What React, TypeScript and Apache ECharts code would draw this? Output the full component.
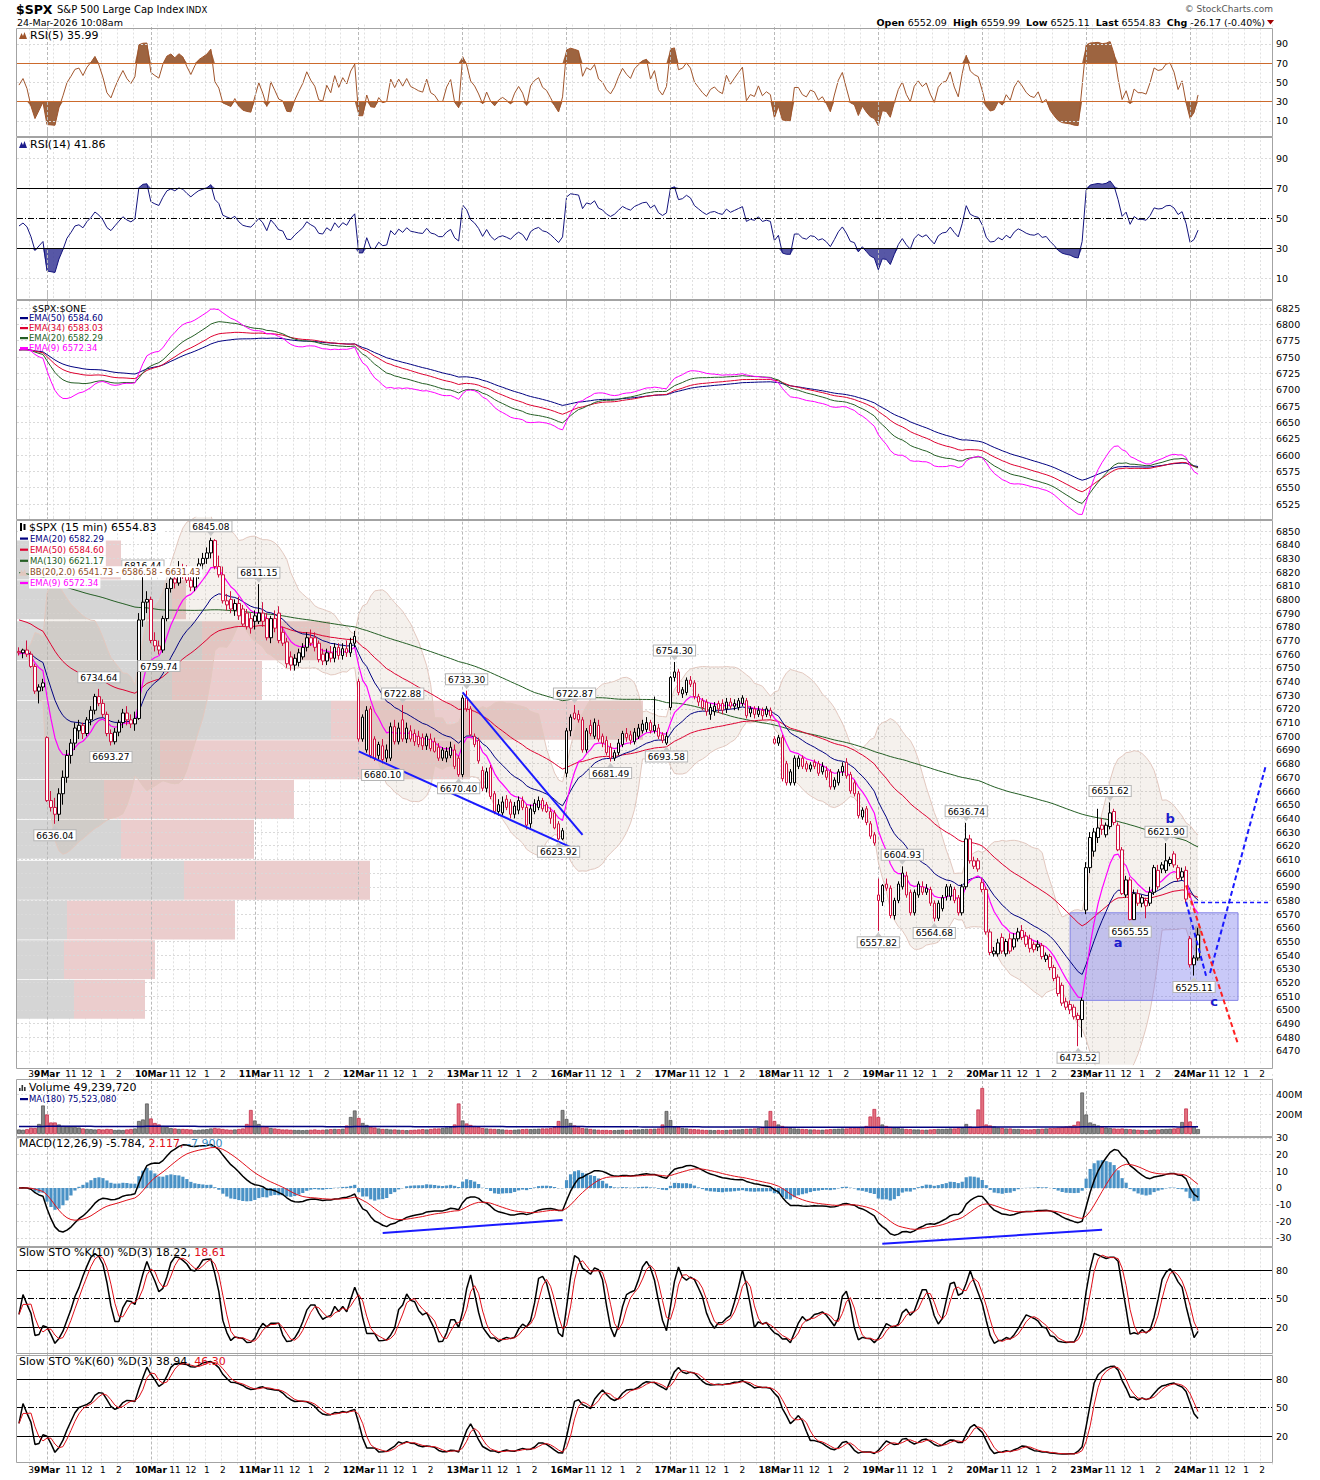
import React, { useEffect, useRef } from 'react';
import * as echarts from 'echarts';

const FONT = 'DejaVu Sans';
const RED = '#cf1040';

// ---------------- sessions on the time axis ----------------
const dayNames = ['6Mar', '9Mar', '10Mar', '11Mar', '12Mar', '13Mar', '16Mar', '17Mar', '18Mar', '19Mar', '20Mar', '23Mar', '24Mar'];
const daySlots = [7, 26, 26, 26, 26, 26, 26, 26, 26, 26, 26, 26, 21];
const dayStartMinute = [855, 570, 570, 570, 570, 570, 570, 570, 570, 570, 570, 570, 570];

// ---------------- 15 min bars [open, high, low, close] ----------------
const mar06 = [
  [6762, 6765, 6759, 6761], [6761, 6764, 6757, 6763], [6763, 6770, 6758, 6760], [6760, 6762, 6750, 6751],
  [6751, 6753, 6731, 6733], [6733, 6738, 6724, 6736], [6736, 6742, 6733, 6739],
];
const mar09 = [
  [6699, 6700, 6652, 6653], [6653, 6660, 6645, 6648], [6648, 6655, 6636.04, 6643], [6643, 6662, 6638, 6658],
  [6658, 6675, 6650, 6670], [6670, 6690, 6666, 6686], [6686, 6698, 6680, 6695], [6695, 6710, 6690, 6706],
  [6704, 6712, 6698, 6708], [6708, 6710, 6698, 6702], [6702, 6714, 6700, 6712], [6712, 6722, 6708, 6719],
  [6719, 6731, 6716, 6729], [6729, 6734.64, 6722, 6724], [6724, 6727, 6714, 6716], [6716, 6718, 6700, 6702],
  [6702, 6705, 6693.27, 6696], [6696, 6706, 6694, 6703], [6703, 6712, 6700, 6710], [6710, 6720, 6706, 6717],
  [6717, 6722, 6708, 6712], [6712, 6716, 6706, 6709], [6709, 6718, 6704, 6713], [6713, 6790, 6712, 6785],
  [6785, 6816.44, 6780, 6798], [6798, 6806, 6790, 6800],
];
const mar10 = [
  [6800, 6802, 6768, 6770], [6770, 6776, 6762, 6766], [6766, 6770, 6759.74, 6763], [6763, 6788, 6761, 6786],
  [6786, 6812, 6784, 6808], [6808, 6818, 6805, 6815], [6815, 6822, 6808, 6812], [6812, 6828, 6810, 6822],
  [6822, 6826, 6815, 6820], [6820, 6825, 6812, 6814], [6814, 6818, 6806, 6809], [6809, 6820, 6806, 6818],
  [6818, 6830, 6815, 6826], [6826, 6834, 6822, 6830], [6830, 6838, 6826, 6834], [6834, 6845.08, 6830, 6843],
  [6843, 6844, 6822, 6824], [6824, 6832, 6816, 6818], [6818, 6824, 6797, 6799], [6799, 6804, 6792, 6796],
  [6800, 6806, 6790, 6793], [6792, 6800, 6788, 6797], [6797, 6802, 6785, 6788], [6793, 6796, 6780, 6782],
  [6790, 6793, 6778, 6780], [6786, 6790, 6775, 6779],
];
const mar11 = [
  [6788, 6792, 6778, 6784], [6784, 6811.15, 6782, 6790], [6790, 6798, 6780, 6784], [6786, 6790, 6770, 6772],
  [6772, 6788, 6768, 6786], [6786, 6792, 6776, 6779], [6790, 6795, 6768, 6770], [6776, 6780, 6766, 6768],
  [6769, 6772, 6750, 6753], [6758, 6762, 6748, 6752], [6752, 6760, 6748, 6757], [6754, 6764, 6751, 6761],
  [6758, 6768, 6756, 6765], [6765, 6776, 6762, 6772], [6772, 6778, 6766, 6768], [6772, 6776, 6762, 6765],
  [6768, 6770, 6754, 6756], [6760, 6764, 6752, 6755], [6755, 6764, 6752, 6761], [6761, 6766, 6754, 6757],
  [6757, 6768, 6754, 6765], [6765, 6768, 6756, 6759], [6759, 6768, 6756, 6764], [6764, 6770, 6758, 6761],
  [6761, 6772, 6758, 6768], [6768, 6777, 6765, 6773],
];
const mar12 = [
  [6740, 6742, 6696, 6698], [6714, 6716, 6696, 6698], [6690, 6722, 6688, 6719], [6720, 6722, 6684, 6686],
  [6698, 6700, 6682, 6684], [6686, 6696, 6683, 6694], [6693, 6698, 6680.10, 6683], [6690, 6694, 6681, 6684],
  [6684, 6710, 6682, 6707], [6707, 6712, 6694, 6696], [6696, 6710, 6694, 6706], [6712, 6722.88, 6696, 6698],
  [6698, 6710, 6695, 6706], [6704, 6708, 6696, 6698], [6702, 6705, 6693, 6696], [6700, 6704, 6692, 6694],
  [6699, 6702, 6690, 6693], [6693, 6702, 6690, 6700], [6698, 6702, 6689, 6691], [6696, 6699, 6688, 6689],
  [6692, 6695, 6682, 6684], [6690, 6692, 6682, 6684], [6684, 6692, 6681, 6689], [6686, 6696, 6684, 6692],
  [6690, 6694, 6676, 6678], [6684, 6686, 6670.40, 6672],
];
const mar13 = [
  [6672, 6730, 6670, 6728], [6728, 6733.30, 6718, 6720], [6720, 6722, 6700, 6701], [6700, 6702, 6692, 6694],
  [6697, 6699, 6680, 6682], [6675, 6678, 6660, 6662], [6662, 6677, 6659, 6674], [6677, 6679, 6654, 6656],
  [6658, 6660, 6643, 6645], [6645, 6654, 6642, 6650], [6644, 6656, 6642, 6652], [6654, 6657, 6646, 6648],
  [6652, 6654, 6640, 6643], [6643, 6652, 6640, 6649], [6646, 6656, 6643, 6653], [6653, 6656, 6646, 6648],
  [6648, 6650, 6632, 6635], [6636, 6650, 6633, 6647], [6645, 6654, 6643, 6651], [6648, 6656, 6646, 6653],
  [6653, 6655, 6645, 6647], [6650, 6652, 6644, 6645], [6645, 6648, 6636, 6640], [6644, 6646, 6632, 6633],
  [6636, 6638, 6623.92, 6625], [6625, 6633, 6624, 6631],
];
const mar16 = [
  [6673, 6706, 6670, 6704], [6704, 6716, 6700, 6714], [6717, 6722.87, 6712, 6713], [6716, 6719, 6710, 6712],
  [6712, 6714, 6688, 6690], [6690, 6706, 6688, 6704], [6708, 6712, 6700, 6702], [6700, 6713, 6698, 6710],
  [6708, 6712, 6696, 6698], [6700, 6702, 6692, 6695], [6697, 6700, 6686, 6688], [6692, 6695, 6681.49, 6684],
  [6684, 6690, 6682, 6688], [6688, 6698, 6686, 6695], [6694, 6704, 6692, 6702], [6702, 6706, 6696, 6699],
  [6701, 6704, 6694, 6697], [6696, 6706, 6694, 6703], [6700, 6709, 6698, 6706], [6704, 6712, 6702, 6709],
  [6705, 6714, 6703, 6710], [6710, 6712, 6702, 6704], [6704, 6729, 6702, 6708], [6706, 6709, 6698, 6700],
  [6701, 6703, 6695, 6697], [6695, 6703, 6693.58, 6700],
];
const mar17 = [
  [6721, 6744, 6719, 6743], [6743, 6754.30, 6740, 6747], [6747, 6749, 6730, 6732], [6731, 6736, 6728, 6734],
  [6732, 6743, 6730, 6741], [6741, 6744, 6736, 6738], [6739, 6741, 6727, 6729], [6729, 6731, 6722, 6725],
  [6726, 6728, 6719, 6721], [6725, 6727, 6715, 6718], [6716, 6724, 6712, 6721], [6718, 6725, 6715, 6722],
  [6724, 6726, 6717, 6720], [6724, 6727, 6716, 6719], [6720, 6728, 6717, 6725], [6725, 6728, 6720, 6722],
  [6722, 6727, 6719, 6724], [6721, 6728, 6719, 6726], [6724, 6730, 6722, 6728], [6726, 6728, 6713, 6715],
  [6720, 6722, 6714, 6717], [6720, 6722, 6713, 6716], [6716, 6722, 6714, 6719], [6719, 6721, 6712, 6715],
  [6720, 6722, 6714, 6716], [6719, 6721, 6713, 6715],
];
const mar18 = [
  [6698, 6700, 6694, 6695], [6695, 6701, 6693, 6699], [6699, 6701, 6667, 6669], [6680, 6682, 6664, 6666],
  [6674, 6676, 6664, 6666], [6666, 6686, 6664, 6684], [6678, 6686, 6676, 6684], [6684, 6686, 6676, 6678],
  [6680, 6682, 6674, 6676], [6676, 6681, 6674, 6679], [6681, 6683, 6676, 6678], [6680, 6682, 6671, 6673],
  [6678, 6681, 6672, 6674], [6675, 6678, 6668, 6670], [6674, 6676, 6661, 6663], [6663, 6670, 6661, 6668],
  [6666, 6676, 6664, 6674], [6674, 6681, 6671, 6678], [6681, 6684, 6669, 6671], [6672, 6674, 6658, 6660],
  [6666, 6668, 6656, 6658], [6658, 6660, 6640, 6642], [6641, 6648, 6639, 6646], [6647, 6649, 6635, 6637],
  [6636, 6638, 6625, 6627], [6628, 6630, 6620, 6622],
];
const mar19 = [
  [6584, 6596, 6557.82, 6580], [6579, 6592, 6576, 6591], [6592, 6596, 6587, 6589], [6589, 6591, 6567, 6569],
  [6569, 6582, 6566, 6580], [6580, 6594, 6578, 6592], [6590, 6604.93, 6588, 6600], [6598, 6601, 6582, 6584],
  [6586, 6588, 6569, 6571], [6571, 6588, 6569, 6586], [6584, 6594, 6582, 6592], [6590, 6594, 6584, 6586],
  [6586, 6592, 6584, 6589], [6588, 6590, 6576, 6578], [6578, 6580, 6564.68, 6567], [6567, 6580, 6565, 6578],
  [6574, 6584, 6572, 6582], [6590, 6592, 6580, 6583], [6583, 6592, 6580, 6590], [6588, 6590, 6578, 6580],
  [6582, 6584, 6569, 6571], [6571, 6592, 6569, 6590], [6590, 6636.74, 6588, 6625], [6625, 6628, 6607, 6609],
  [6609, 6612, 6603, 6605], [6609, 6611, 6601, 6603],
];
const mar20 = [
  [6593, 6596, 6586, 6588], [6588, 6590, 6555, 6557], [6557, 6559, 6540, 6542], [6541, 6546, 6539, 6543],
  [6541, 6552, 6539, 6549], [6553, 6556, 6541, 6543], [6541, 6552, 6539, 6550], [6552, 6556, 6541, 6543],
  [6546, 6556, 6544, 6552], [6552, 6560, 6550, 6557], [6558, 6562, 6551, 6553], [6554, 6557, 6546, 6548],
  [6552, 6555, 6542, 6545], [6548, 6550, 6542, 6544], [6548, 6551, 6543, 6546], [6547, 6549, 6537, 6539],
  [6537, 6542, 6535, 6540], [6539, 6541, 6529, 6531], [6531, 6533, 6521, 6523], [6524, 6526, 6510, 6512],
  [6518, 6520, 6503, 6505], [6506, 6509, 6500, 6502], [6504, 6507, 6497, 6500], [6502, 6504, 6493, 6495],
  [6496, 6498, 6473.52, 6493], [6493, 6509, 6480, 6507],
];
const mar23 = [
  [6573, 6608, 6570, 6604], [6604, 6630, 6600, 6626], [6616, 6633, 6612, 6630], [6626, 6647, 6622, 6633],
  [6635, 6640, 6628, 6632], [6628, 6637, 6626, 6635], [6634, 6651.62, 6632, 6644], [6645, 6647, 6635, 6637],
  [6635, 6637, 6616, 6617], [6617, 6619, 6584, 6585], [6584, 6598, 6582, 6595], [6595, 6597, 6565.55, 6566],
  [6566, 6588, 6566, 6585], [6585, 6588, 6576, 6578], [6582, 6584, 6575, 6578], [6580, 6582, 6567, 6576],
  [6578, 6590, 6576, 6586], [6586, 6606, 6584, 6604], [6590, 6606, 6588, 6602], [6606, 6608, 6600, 6603],
  [6602, 6621.90, 6600, 6609], [6607, 6612, 6605, 6610], [6614, 6616, 6604, 6606], [6604, 6606, 6594, 6596],
  [6597, 6604, 6595, 6601], [6602, 6605, 6578, 6581],
];
const mar24 = [
  [6552.09, 6554, 6531, 6533], [6533, 6540, 6525.11, 6538], [6538, 6559.99, 6536, 6554.83],
];

// ---------------- volume per bar (millions) ----------------
const vol06 = [45, 42, 48, 62, 60, 100, 285];
const vol09 = [195, 115, 115, 95, 80, 75, 72, 70, 65, 55, 50, 48, 45, 48, 45, 50, 48, 40, 42, 40, 45, 50, 55, 130, 145, 305];
const vol10 = [155, 110, 95, 80, 70, 60, 55, 50, 50, 48, 45, 40, 42, 45, 48, 55, 60, 55, 50, 45, 42, 45, 50, 55, 100, 240];
const vol11 = [135, 100, 80, 70, 60, 55, 50, 45, 45, 42, 40, 40, 38, 40, 42, 45, 40, 42, 45, 48, 50, 48, 52, 85, 170, 235];
const vol12 = [160, 110, 90, 75, 65, 55, 50, 50, 45, 45, 42, 40, 38, 40, 42, 45, 48, 45, 50, 55, 55, 60, 65, 70, 95, 305];
const vol13 = [135, 105, 90, 80, 70, 60, 55, 52, 50, 48, 45, 42, 40, 42, 45, 48, 50, 48, 50, 52, 55, 55, 60, 70, 130, 240];
const vol16 = [150, 110, 85, 70, 60, 55, 50, 45, 42, 40, 40, 38, 38, 40, 42, 40, 42, 45, 45, 48, 50, 50, 52, 55, 95, 230];
const vol17 = [140, 75, 75, 60, 55, 50, 48, 45, 42, 40, 40, 38, 40, 38, 40, 42, 45, 45, 48, 50, 52, 55, 60, 70, 135, 230];
const vol18 = [130, 95, 80, 70, 60, 55, 52, 50, 48, 45, 45, 42, 42, 45, 48, 50, 52, 55, 55, 60, 60, 65, 70, 80, 175, 250];
const vol19 = [170, 95, 80, 70, 65, 60, 55, 50, 48, 45, 45, 42, 42, 45, 48, 50, 50, 52, 55, 55, 58, 60, 100, 75, 70, 245];
const vol20 = [460, 95, 85, 75, 65, 60, 55, 55, 50, 50, 48, 45, 45, 48, 50, 52, 55, 58, 60, 65, 70, 75, 80, 90, 125, 415];
const vol23 = [195, 115, 100, 85, 70, 65, 60, 55, 52, 55, 50, 48, 45, 42, 40, 40, 42, 45, 45, 48, 50, 52, 55, 60, 120, 255];
const vol24 = [125, 75, 49.24];

// ---------------- volume by price (band top price, relative volumes) ----------------
const vbpTop = [6843, 6814, 6784, 6755, 6726, 6697, 6668, 6639, 6609, 6580, 6551, 6522];
const vbpStep = 29.2;
const vbpGray = [78, 155, 185, 155, 314, 143, 87, 104, 167, 50, 47, 57];
const vbpPink = [26, 14, 128, 90, 312, 310, 190, 133, 186, 168, 91, 71];

// ---------------- indicator seeds read from the left edge ----------------
const seedEma20 = 6761, seedEma50 = 6786, seedEma9 = 6760, priorMa130 = 6820, priorVolMa = 75;

// ---------------- annotations [day, bar, price] ----------------
const highMarks = [[1, 13], [1, 24], [2, 15], [3, 1], [4, 11], [5, 1], [6, 2], [7, 1], [9, 6], [9, 22], [11, 6], [11, 20]];
const lowMarks = [[1, 2], [1, 16], [2, 2], [4, 6], [4, 25], [5, 24], [6, 11], [6, 25], [9, 0], [9, 14], [10, 24], [11, 11], [12, 1]];
const wedgeLines = [[[4, 0, 6689], [6, 1, 6619]], [[5, 0, 6732], [6, 4, 6628]]];
const macdLines = [[[4, 6, -27], [5, 25, -19.2]], [[9, 1, -33.5], [11, 4, -25.1]]];
const blueProj = [[[11, 25, 6579], [12, 4, 6525]], [[12, 5, 6527], [12, 19, 6679]]];
const redProj = [[11, 25, 6591], [12, 12, 6475]];
const blueLevel = [[12, 1, 6579], [12, 20, 6579]];
const boxArea = [[10, 22, 6571], [12, 12, 6507]];
const waveLetters = [['a', 11, 8, 6549], ['b', 11, 21, 6640], ['c', 12, 6, 6506]];
const currentBar = [[12, 2, 6561], [12, 2, 6536]];

// ---------------- helpers ----------------
function ema(vals: number[], n: number, seed: number) {
  const k = 2 / (n + 1);
  let e = seed;
  return vals.map((v) => (e = e + k * (v - e)));
}
function smaWin(vals: number[], n: number, prior?: number) {
  return vals.map((_, i) => {
    let s = 0, c = 0;
    for (let j = Math.max(0, i - n + 1); j <= i; j++) { s += vals[j]; c++; }
    if (prior !== undefined) { s += prior * (n - c); c = n; }
    return s / c;
  });
}
function stdWin(vals: number[], n: number, means: number[]) {
  return vals.map((_, i) => {
    let s = 0, c = 0;
    for (let j = Math.max(0, i - n + 1); j <= i; j++) { s += (vals[j] - means[i]) ** 2; c++; }
    return Math.sqrt(s / c);
  });
}
function rsi(vals: number[], n: number, g0: number, l0: number, p0: number) {
  let g = g0, l = l0, p = p0;
  return vals.map((c) => {
    const d = c - p; p = c;
    g = (g * (n - 1) + Math.max(d, 0)) / n;
    l = (l * (n - 1) + Math.max(-d, 0)) / n;
    return 100 - 100 / (1 + g / l);
  });
}
function slowSto(h: number[], lo: number[], c: number[], n: number) {
  const fast = c.map((v, i) => {
    let hh = -Infinity, ll = Infinity;
    for (let j = Math.max(0, i - n + 1); j <= i; j++) { hh = Math.max(hh, h[j]); ll = Math.min(ll, lo[j]); }
    return hh === ll ? 50 : (100 * (v - ll)) / (hh - ll);
  });
  const k = smaWin(fast, 3);
  const d = smaWin(k, 3);
  return [k, d];
}

// ---------------- build axis + series data ----------------
const ohlcDays = [mar06, mar09, mar10, mar11, mar12, mar13, mar16, mar17, mar18, mar19, mar20, mar23, mar24];
const volDays = [vol06, vol09, vol10, vol11, vol12, vol13, vol16, vol17, vol18, vol19, vol20, vol23, vol24];

const cats: string[] = [];
const labelText: string[] = [];
const hourLine: boolean[] = [];
const dayStart: number[] = [];
const hourNames: Record<number, string> = { 660: '11', 720: '12', 780: '1', 840: '2' };
{
  let slot = 0;
  dayNames.forEach((dn, d) => {
    dayStart.push(slot);
    for (let k = 0; k < daySlots[d]; k++) {
      const m = dayStartMinute[d] + 15 * k;
      cats.push(dn + ' ' + Math.floor(m / 60) + ':' + String(m % 60).padStart(2, '0'));
      let lab = '';
      if (d === 0) { if (m === 900) lab = '3'; }
      else if (k === 0) lab = '{d|' + dn + '}';
      else if (hourNames[m]) lab = hourNames[m];
      labelText.push(lab);
      hourLine.push(m % 60 === 0 && k !== 0);
      slot++;
    }
  });
}
const at = (d: number, b: number) => dayStart[d] + b;

const bars: number[][] = ohlcDays.flat() as number[][];
const vols: number[] = volDays.flat();
const closes = bars.map((b) => b[3]);
const highs = bars.map((b) => b[1]);
const lows = bars.map((b) => b[2]);

const candleData = bars.map((b, i) => {
  const prev = i > 0 ? bars[i - 1][3] : b[0];
  const col = b[3] < prev ? RED : '#000';
  return { value: [b[0], b[3], b[2], b[1]], itemStyle: { color: '#fff', color0: col, borderColor: col, borderColor0: col, borderWidth: 1 } };
});
const volData = vols.map((v, i) => {
  const up = i === 0 || closes[i] >= closes[i - 1];
  return { value: v, itemStyle: { color: up ? '#8a8a8a' : '#e3707f', borderColor: up ? '#4a4a4a' : '#c0203e', borderWidth: 0.7 } };
});
const volMa = smaWin(vols, 180, priorVolMa);

const ema20 = ema(closes, 20, seedEma20);
const ema50 = ema(closes, 50, seedEma50);
const ema9 = ema(closes, 9, seedEma9);
const ma130 = smaWin(closes, 130, priorMa130);
const bbMid = smaWin(closes, 20);
const bbSd = stdWin(closes, 20, bbMid);
const bbUp = bbMid.map((m, i) => m + 2 * bbSd[i]);
const bbLo = bbMid.map((m, i) => m - 2 * bbSd[i]);
const bbDiff = bbUp.map((u, i) => u - bbLo[i]);

const pe50 = ema(closes, 50, closes[0]);
const pe34 = ema(closes, 34, closes[0]);
const pe20 = ema(closes, 20, closes[0]);
const pe9 = ema(closes, 9, closes[0]);

const rsi5 = rsi(closes, 5, 2, 2, bars[0][0]);
const rsi14 = rsi(closes, 14, 2, 2.4, bars[0][0]);

const e12 = ema(closes, 12, closes[0]);
const e26 = ema(closes, 26, closes[0]);
const macd = e12.map((v, i) => v - e26[i]);
const macdSig = ema(macd, 9, 0);
const macdHist = macd.map((v, i) => v - macdSig[i]);

const [sto10k, sto10d] = slowSto(highs, lows, closes, 10);
const [sto60k, sto60d] = slowSto(highs, lows, closes, 60);

// ---------------- layout ----------------
const LEFT = 17, RIGHT = 48, PW = 1255;
const gridDefs = [
  [24.5, 115.5], [128, 180], [291.667, 228.667], [517.32, 547.36],
  [1074, 60], [1121.333, 133.333], [1241.5, 114], [1350.5, 114],
];
const axisDefs = [
  [-10, 110, 20], [-10, 110, 20], [6500, 6850, 25], [6460, 6860, 10],
  [0, 600, 200], [-40, 40, 10], [-10, 110, 30], [-10, 110, 30],
];
const frames = [[28, 108], [137, 162], [300, 219], [520, 548], [1079, 57], [1137, 109], [1247, 106], [1355, 107]];

const GRID_C = '#dadada';
const dayLines = dayStart.slice(1).map((ix) => ({ xAxis: ix, lineStyle: { color: '#b9b9b9', type: [3, 2], width: 1 } }));
const hLines = (vals: number[], color = GRID_C, type: any = [2, 2], width = 1) =>
  vals.map((v) => ({ yAxis: v, lineStyle: { color, type, width } }));
const range = (a: number, b: number, s: number) => { const r: number[] = []; for (let v = a; v <= b + 1e-9; v += s) r.push(v); return r; };
const ml = (data: any[], z = 1.6) => ({ silent: true, symbol: ['none', 'none'], label: { show: false }, animation: false, z, data });
const seg = (p: any[], q: any[], color: string, width: number, type: any = 'solid') => [
  { coord: [at(p[0], p[1]), p[2]], lineStyle: { color, width, type } },
  { coord: [at(q[0], q[1]), q[2]], lineStyle: { color, width, type } },
];

const lineS = (data: number[], axis: number, color: string, width = 1, extra: any = {}) => ({
  type: 'line', data, xAxisIndex: axis, yAxisIndex: axis, symbol: 'none', showSymbol: false,
  lineStyle: { color, width }, itemStyle: { color }, silent: true, animation: false, z: 3, ...extra,
});
const stackPair = (base: number[], delta: number[], axis: number, stack: string, color: string, opacity = 1) => [
  { type: 'line', data: base, xAxisIndex: axis, yAxisIndex: axis, stack, symbol: 'none', showSymbol: false, lineStyle: { opacity: 0, width: 0 }, silent: true, z: 2 },
  { type: 'line', data: delta, xAxisIndex: axis, yAxisIndex: axis, stack, symbol: 'none', showSymbol: false, lineStyle: { opacity: 0, width: 0 }, areaStyle: { color, opacity }, silent: true, z: 2 },
];

const markLabel = (d: number, b: number, high: boolean) => {
  const bar = bars[at(d, b)];
  const v = high ? bar[1] : bar[2];
  return {
    coord: [at(d, b), v], value: v, symbol: 'triangle', symbolSize: [8, 5], symbolRotate: high ? 180 : 0,
    symbolOffset: [0, high ? -4 : 4], itemStyle: { color: '#c9c9c9' },
    label: {
      show: true, position: high ? 'top' : 'bottom', distance: 0, formatter: v.toFixed(2),
      fontSize: 9, fontFamily: FONT, color: '#000', backgroundColor: '#fff', borderColor: '#b5b5b5', borderWidth: 1, padding: [1, 2, 0, 2],
    },
  };
};

function buildOption() {
  const xAxes: any[] = gridDefs.map((_, gi) => ({
    type: 'category', gridIndex: gi, data: cats, boundaryGap: true,
    axisLine: { show: false }, axisTick: { show: false },
    axisLabel: {
      show: gi === 3 || gi === 7, interval: (i: number) => labelText[i] !== '', formatter: (_v: any, i: number) => labelText[i],
      margin: gi === 3 ? 5 : 1, color: '#000', fontSize: 9, fontFamily: FONT,
      rich: { d: { fontWeight: 'bold', fontSize: 9, fontFamily: FONT, color: '#000' } },
    },
    splitLine: { show: true, interval: (i: number) => hourLine[i], lineStyle: { color: '#e0e0e0', type: [2, 2], width: 1 } },
  }));
  xAxes.push({ type: 'value', gridIndex: 3, min: 0, max: PW, show: false });

  const yAxes = axisDefs.map((a, gi) => ({
    type: 'value', gridIndex: gi, position: 'right', min: a[0], max: a[1], interval: a[2],
    axisLine: { show: false }, axisTick: { show: false }, splitLine: { show: false },
    axisLabel: {
      show: true, margin: 4, color: '#000', fontSize: 9.5, fontFamily: FONT, showMinLabel: false, showMaxLabel: false,
      formatter: gi === 4 ? (v: number) => v + 'M' : (v: number) => String(v),
    },
  }));

  const series: any[] = [];

  // RSI(5)
  series.push(...stackPair(rsi5.map(() => 70), rsi5.map((v) => Math.max(v - 70, 0)), 0, 'r5a', '#9d6440'));
  series.push(...stackPair(rsi5.map((v) => Math.min(v, 30)), rsi5.map((v) => 30 - Math.min(v, 30)), 0, 'r5b', '#9d6440'));
  series.push(lineS(rsi5, 0, '#a0552c', 1, {
    markLine: ml([...dayLines, ...hLines([90, 50, 10]), ...hLines([70, 30], '#cc6a2c', 'solid', 1)], 4),
  }));

  // RSI(14)
  series.push(...stackPair(rsi14.map(() => 70), rsi14.map((v) => Math.max(v - 70, 0)), 1, 'r14a', '#3a3a96', 0.85));
  series.push(...stackPair(rsi14.map((v) => Math.min(v, 30)), rsi14.map((v) => 30 - Math.min(v, 30)), 1, 'r14b', '#3a3a96', 0.85));
  series.push(lineS(rsi14, 1, '#14147e', 1, {
    markLine: ml([...dayLines, ...hLines([90, 10]), ...hLines([70, 30], '#000', 'solid', 1), ...hLines([50], '#000', [6, 2, 1, 2], 1)], 4),
  }));

  // EMA panel
  series.push(lineS(pe50, 2, '#000080', 1, { markLine: ml([...dayLines, ...hLines(range(6525, 6825, 25))]) }));
  series.push(lineS(pe34, 2, '#dd0030', 1));
  series.push(lineS(pe20, 2, '#245e24', 1));
  series.push(lineS(pe9, 2, '#ff00ff', 1));

  // Main panel: volume by price
  series.push({
    type: 'custom', xAxisIndex: 8, yAxisIndex: 3, z: 1, silent: true, animation: false,
    data: vbpTop.map((t, i) => [t, t - vbpStep, vbpGray[i], vbpPink[i]]),
    renderItem: (_p: any, api: any) => {
      const top = api.value(0), bot = api.value(1), g = api.value(2), pk = api.value(3);
      const a = api.coord([0, top]);
      const b = api.coord([g, bot]);
      const c = api.coord([g + pk, bot]);
      const h = b[1] - a[1] - 1;
      return {
        type: 'group', children: [
          { type: 'rect', shape: { x: a[0], y: a[1], width: b[0] - a[0], height: h }, style: { fill: '#d5d5d5' } },
          { type: 'rect', shape: { x: b[0], y: a[1], width: c[0] - b[0], height: h }, style: { fill: '#ebcdcd' } },
        ],
      };
    },
  });
  // Bollinger band fill (+ grid lines and current-bar highlight below the candles)
  const bbPair = stackPair(bbLo, bbDiff, 3, 'bb', 'rgba(175,150,115,0.13)');
  series.push({
    ...bbPair[0],
    markLine: ml([...dayLines, ...hLines(range(6470, 6850, 10)), seg(currentBar[0], currentBar[1], '#d5cb78', 6)], 1.6),
  });
  series.push(bbPair[1]);
  series.push(lineS(bbUp, 3, '#e2c8bf', 1, { z: 2 }));
  series.push(lineS(bbLo, 3, '#e2c8bf', 1, { z: 2 }));
  series.push(lineS(ma130, 3, '#245e24', 1));
  series.push(lineS(ema50, 3, '#dd0030', 1));
  series.push(lineS(ema20, 3, '#000080', 1));
  series.push(lineS(ema9, 3, '#ff00ff', 1.2));
  series.push({
    type: 'candlestick', xAxisIndex: 3, yAxisIndex: 3, data: candleData, barWidth: 3, z: 5, silent: true, animation: false,
    markArea: {
      silent: true, z: 2.5,
      data: [[
        { coord: [at(boxArea[0][0], boxArea[0][1]), boxArea[0][2]], itemStyle: { color: 'rgba(105,105,235,0.36)', borderColor: '#8585e6', borderWidth: 1 } },
        { coord: [at(boxArea[1][0], boxArea[1][1]), boxArea[1][2]] },
      ]],
    },
    markLine: ml([
      ...wedgeLines.map((w) => seg(w[0], w[1], '#1a1aff', 2)),
      ...blueProj.map((w) => seg(w[0], w[1], '#1a1aff', 2, [5, 3])),
      seg(redProj[0], redProj[1], '#ff2020', 2, [5, 3]),
      seg(blueLevel[0], blueLevel[1], '#1a1aff', 1.3, [4, 3]),
    ], 6),
    markPoint: {
      silent: true, z: 7, animation: false,
      data: [
        ...highMarks.map((m) => markLabel(m[0], m[1], true)),
        ...lowMarks.map((m) => markLabel(m[0], m[1], false)),
        ...waveLetters.map((w) => ({
          coord: [at(w[1] as number, w[2] as number), w[3]], symbol: 'circle', symbolSize: 1, itemStyle: { color: 'rgba(0,0,0,0)' },
          label: { show: true, position: 'inside', formatter: w[0], color: '#1c1ccc', fontSize: 13, fontWeight: 'bold', fontFamily: FONT },
        })),
      ],
    },
  });

  // Volume
  series.push({
    type: 'bar', xAxisIndex: 4, yAxisIndex: 4, data: volData, barCategoryGap: '8%', silent: true, animation: false, z: 2,
    markLine: ml([...dayLines, ...hLines([200, 400])], 1),
  });
  series.push(lineS(volMa, 4, '#000080', 1.5));

  // MACD
  series.push({
    type: 'bar', xAxisIndex: 5, yAxisIndex: 5, data: macdHist, barCategoryGap: '20%', silent: true, animation: false, z: 2,
    itemStyle: { color: '#4a92c6' },
    markLine: ml([...dayLines, ...hLines([30, 20, 10, 0, -10, -20, -30])], 1),
  });
  series.push(lineS(macd, 5, '#000', 1.5, { markLine: ml(macdLines.map((w) => seg(w[0], w[1], '#1a1aff', 2)), 6) }));
  series.push(lineS(macdSig, 5, '#e0101a', 1));

  // Slow STO 10 & 60
  [[sto10k, sto10d, 6], [sto60k, sto60d, 7]].forEach(([k, d, gi]: any) => {
    series.push(lineS(k, gi, '#000', 1.5, {
      markLine: ml([...dayLines, ...hLines([80, 20], '#000', 'solid', 1), ...hLines([50], '#000', [6, 2, 1, 2], 1)]),
    }));
    series.push(lineS(d, gi, '#e0101a', 1));
  });

  // ---------------- graphic: frames, header, legends ----------------
  const g: any[] = [];
  frames.forEach(([y, h]) => g.push({
    type: 'rect', silent: true, z: 50, shape: { x: LEFT - 0.5, y: y + 0.5, width: PW + 1, height: h },
    style: { fill: 'none', stroke: '#a3a3a3', lineWidth: 1 },
  }));
  const T = (x: number, y: number, text: string, o: any = {}) => g.push({
    type: 'text', x, y, z: 60, silent: true,
    style: {
      text, fill: o.color || '#000', fontSize: o.size || 8.5, fontFamily: FONT, fontWeight: o.weight || 'normal',
      align: o.align || 'left', verticalAlign: 'middle', backgroundColor: o.bg, padding: o.pad, rich: o.rich,
    },
  });
  const dash = (y: number, color: string) => g.push({ type: 'rect', z: 61, silent: true, shape: { x: 20, y: y - 1, width: 8, height: 2.2 }, style: { fill: color } });
  const mountain = (x: number, y: number, color: string) => g.push({
    type: 'polygon', z: 61, silent: true, shape: { points: [[x, y + 4], [x + 2.5, y - 2], [x + 4, y + 1], [x + 5.5, y - 3], [x + 8, y + 4]] }, style: { fill: color },
  });

  // header
  T(16, 9, '$SPX', { size: 12.5, weight: 'bold' });
  T(57, 9.5, 'S&P 500 Large Cap Index', { size: 10 });
  T(186, 9.5, 'INDX', { size: 8.5 });
  T(17, 22, '24-Mar-2026 10:08am', { size: 9.5 });
  T(1273, 9, '© StockCharts.com', { size: 9, color: '#555', align: 'right' });
  T(1265, 22, '{b|Open} 6552.09  {b|High} 6559.99  {b|Low} 6525.11  {b|Last} 6554.83  {b|Chg} -26.17 (-0.40%)', {
    size: 9.5, align: 'right', rich: { b: { fontWeight: 'bold', fontSize: 9.5, fontFamily: FONT, fill: '#000' } },
  });
  g.push({ type: 'polygon', z: 61, silent: true, shape: { points: [[1267, 20], [1274, 20], [1270.5, 24.5]] }, style: { fill: '#a00000' } });

  // RSI legends
  mountain(19, 35, '#a0552c');
  T(30, 35, 'RSI(5) 35.99', { size: 11 });
  mountain(19, 144, '#1e1e8c');
  T(30, 144, 'RSI(14) 41.86', { size: 11 });

  // EMA panel legend
  T(32, 308, '$SPX:$ONE', { size: 9.5 });
  [['EMA(50) 6584.60', '#000080'], ['EMA(34) 6583.03', '#dd0030'], ['EMA(20) 6582.29', '#245e24'], ['EMA(9) 6572.34', '#ff00ff']]
    .forEach(([t, c], i) => { dash(318 + 10 * i, c); T(29, 318 + 10 * i, t, { color: c, size: 8.5 }); });

  // main legend
  g.push({ type: 'rect', z: 59, silent: true, shape: { x: 18, y: 521, width: 146, height: 12 }, style: { fill: '#fff' } });
  g.push({ type: 'rect', z: 61, silent: true, shape: { x: 20, y: 523, width: 2, height: 8 }, style: { fill: '#000' } });
  g.push({ type: 'rect', z: 61, silent: true, shape: { x: 23.5, y: 524, width: 2, height: 6 }, style: { fill: '#000' } });
  T(29, 527, '$SPX (15 min) 6554.83', { size: 11 });
  const mainRows = [
    ['EMA(20) 6582.29', '#000080'], ['EMA(50) 6584.60', '#dd0030'], ['MA(130) 6621.17', '#245e24'],
    ['BB(20,2.0) 6541.73 - 6586.58 - 6631.43', '#8b4a1c'], ['EMA(9) 6572.34', '#ff00ff'],
  ];
  mainRows.forEach(([t, c], i) => {
    const y = 538.5 + 11.1 * i;
    if (i === 3) mountain(19, y, '#e2c8bf'); else dash(y, c);
    T(29, y, t, { color: c, size: 8.5, bg: '#fff', pad: [1, 2, 1, 1] });
  });

  // volume legend
  [[19, 3], [21.5, 6], [24, 4]].forEach(([x, hh]) => g.push({ type: 'rect', z: 61, silent: true, shape: { x, y: 1091 - hh, width: 1.6, height: hh }, style: { fill: '#333' } }));
  T(29, 1087, 'Volume 49,239,720', { size: 11 });
  dash(1099, '#000080');
  T(29, 1099, 'MA(180) 75,523,080', { color: '#000080', size: 8.5 });

  // MACD & STO legends
  T(19, 1143, 'MACD(12,26,9) -5.784, {r|2.117,} {b|-7.900}', {
    size: 11, rich: { r: { fill: '#e0101a', fontSize: 11, fontFamily: FONT }, b: { fill: '#3a8cc4', fontSize: 11, fontFamily: FONT } },
  });
  T(19, 1252, 'Slow STO %K(10) %D(3) 18.22, {r|18.61}', { size: 11, rich: { r: { fill: '#e0101a', fontSize: 11, fontFamily: FONT } } });
  T(19, 1361, 'Slow STO %K(60) %D(3) 38.94, {r|46.30}', { size: 11, rich: { r: { fill: '#e0101a', fontSize: 11, fontFamily: FONT } } });

  return {
    animation: false,
    backgroundColor: '#fff',
    textStyle: { fontFamily: FONT },
    grid: gridDefs.map(([top, height]) => ({ left: LEFT, right: RIGHT, top, height, containLabel: false, outerBoundsMode: 'none', show: false })),
    xAxis: xAxes,
    yAxis: yAxes,
    series,
    graphic: g,
  };
}

export default function App() {
  const ref = useRef<HTMLDivElement>(null);
  useEffect(() => {
    document.body.style.margin = '0';
    if (!ref.current) return;
    const chart = echarts.init(ref.current, null, { renderer: 'svg' });
    chart.setOption(buildOption() as any);
    return () => chart.dispose();
  }, []);
  return <div ref={ref} style={{ position: 'absolute', left: 0, top: 0, width: 1320, height: 1480, background: '#fff' }} />;
}
